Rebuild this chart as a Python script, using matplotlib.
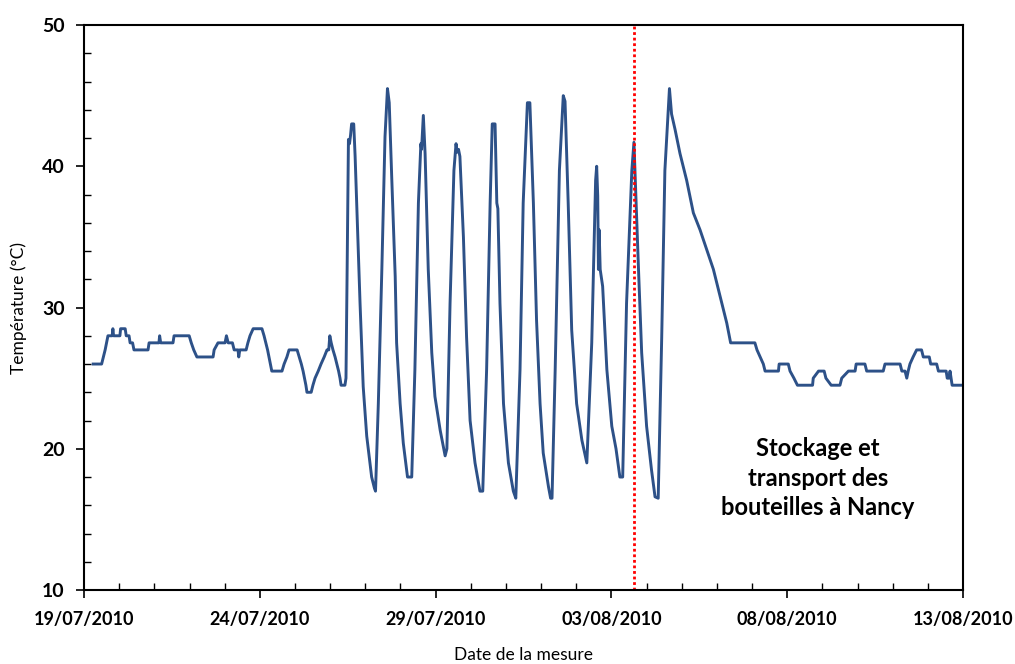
import matplotlib
matplotlib.use("Agg")
import matplotlib.pyplot as plt
from matplotlib.ticker import MultipleLocator, FixedLocator

# days since 19/07/2010
days = [0.26, 0.50, 0.55, 0.60, 0.64, 0.68, 0.80, 0.82, 0.84, 1.02, 1.04, 1.17, 1.20, 1.28, 1.31, 1.38, 1.42,
        1.82, 1.85, 2.13, 2.15, 2.18, 2.53, 2.56, 2.99, 3.05, 3.12, 3.21, 3.67, 3.70, 3.81, 4.01, 4.05, 4.10,
        4.22, 4.27, 4.38, 4.40, 4.43, 4.61, 4.66, 4.72, 4.81, 5.06, 5.12, 5.17, 5.22, 5.26, 5.30, 5.34, 5.63,
        5.69, 5.77, 5.83, 6.06, 6.12, 6.18, 6.23, 6.27, 6.31, 6.34, 6.46, 6.51, 6.57, 6.66, 6.74, 6.83, 6.91,
        6.96, 6.99, 7.03, 7.08, 7.14, 7.19, 7.24, 7.28, 7.31, 7.42,
        7.45, 7.48, 7.51, 7.52, 7.55, 7.58, 7.61, 7.67, 7.71, 7.85, 7.94, 8.04, 8.18, 8.26, 8.29,
        8.37, 8.47, 8.56, 8.63, 8.68, 8.75, 8.85, 8.89, 8.99, 9.08, 9.20, 9.32,
        9.41, 9.51, 9.58, 9.60, 9.65, 9.70, 9.79, 9.89, 9.98, 10.13, 10.27, 10.32,
        10.41, 10.52, 10.58, 10.61, 10.65, 10.69, 10.79, 10.88, 10.98, 11.12, 11.26, 11.34,
        11.45, 11.55, 11.61, 11.69, 11.74, 11.77, 11.83, 11.93, 12.07, 12.21, 12.28,
        12.40, 12.49, 12.61, 12.68, 12.78, 12.87, 12.97, 13.06, 13.21, 13.27, 13.31,
        13.40, 13.52, 13.63, 13.68, 13.77, 13.87, 14.01, 14.16, 14.30,
        14.44, 14.55, 14.58, 14.61, 14.63, 14.65, 14.68, 14.75, 14.87, 15.01, 15.13, 15.24, 15.32,
        15.43, 15.58, 15.64, 15.77, 15.86, 16.00, 16.14, 16.24, 16.33,
        16.43, 16.52, 16.65, 16.71, 16.81, 16.95, 17.14, 17.33, 17.52, 17.71, 17.90, 18.09, 18.28, 18.39,
        19.08, 19.14, 19.23, 19.32, 19.37, 19.75, 19.77, 20.03, 20.08, 20.19, 20.29, 20.72, 20.74, 20.89,
        21.05, 21.10, 21.25, 21.50, 21.55, 21.74, 21.93, 21.96, 22.21, 22.26, 22.73, 22.78, 23.21, 23.26,
        23.35, 23.40, 23.44, 23.49, 23.58, 23.68, 23.82, 23.87, 24.04, 24.08, 24.25, 24.30, 24.52, 24.55,
        24.60, 24.63, 24.69, 25.00]
temps = [26, 26, 26.5, 27, 27.5, 28, 28, 28.5, 28, 28, 28.5, 28.5, 28, 28, 27.5, 27.5, 27,
         27, 27.5, 27.5, 28, 27.5, 27.5, 28, 28, 27.5, 27, 26.5, 26.5, 27, 27.5, 27.5, 28, 27.5,
         27.5, 27, 27, 26.5, 27, 27, 27.5, 28, 28.5, 28.5, 28, 27.5, 27, 26.5, 26, 25.5, 25.5,
         26, 26.5, 27, 27, 26.5, 26, 25.5, 25, 24.5, 24, 24, 24.5, 25, 25.5, 26, 26.5, 27,
         27, 28, 27.5, 27, 26.5, 26, 25.5, 25, 24.5, 24.5,
         25, 32, 40, 41.9, 41.6, 42.2, 43.0, 43.0, 40.7, 30.3, 24.4, 20.9, 18.0, 17.2, 17.0,
         23.2, 32.7, 42.1, 45.5, 44.5, 39.3, 32.2, 27.5, 23.2, 20.4, 18.0, 18.0,
         25.6, 37.4, 41.6, 41.2, 43.6, 40.9, 32.7, 26.8, 23.7, 21.3, 19.5, 20.0,
         30.3, 39.7, 41.6, 41.0, 41.2, 40.7, 35.0, 27.9, 22.0, 19.0, 17.0, 17.0,
         25.6, 37.4, 43.0, 43.0, 37.4, 37.0, 30.3, 23.2, 19.0, 17.0, 16.5,
         25.6, 37.4, 44.5, 44.5, 37.4, 29.1, 23.2, 19.7, 17.3, 16.5, 16.5,
         25.6, 39.7, 45.0, 44.6, 37.4, 28.4, 23.2, 20.6, 19.0,
         27.5, 39.0, 40.0, 37.9, 32.7, 35.5, 32.7, 31.5, 25.6, 21.6, 20.0, 18.0, 18.0,
         30.3, 39.7, 41.7, 32.7, 26.8, 21.6, 18.5, 16.6, 16.5,
         27.9, 39.7, 45.5, 43.7, 42.6, 40.9, 39.0, 36.7, 35.5, 34.1, 32.7, 30.8, 28.9, 27.5,
         27.5, 27.0, 26.5, 26.0, 25.5, 25.5, 26, 26, 25.5, 25.0, 24.5, 24.5, 25, 25.5,
         25.5, 25, 24.5, 24.5, 25, 25.5, 25.5, 26, 26, 25.5, 25.5, 26, 26, 25.5,
         25.5, 25, 25.5, 26, 26.5, 27, 27, 26.5, 26.5, 26, 26, 25.5, 25.5, 25,
         25, 25.5, 24.5, 24.5]

tick_days = [0, 5, 10, 15, 20, 25]
tick_labels = ["19/07/2010", "24/07/2010", "29/07/2010", "03/08/2010", "08/08/2010", "13/08/2010"]
event_day = 15.64
annotation = "Stockage et\ntransport des\nbouteilles à Nancy"

plt.rcParams['font.family'] = ['Lato', 'DejaVu Sans']

fig = plt.figure(figsize=(10.15, 6.64), dpi=100)
ax = fig.add_axes([0.0828, 0.1114, 0.8660, 0.8509])

ax.plot(days, temps, color='#2D5188', lw=2.1, solid_joinstyle='round')
ax.axvline(event_day, color='#FF0000', lw=2.0, linestyle=(0, (1, 1)))

ax.text(20.88, 17.93, annotation, ha='center', va='center', fontsize=17,
        fontweight='bold', linespacing=1.33, color='black')

ax.set_xlim(0, 25)
ax.set_ylim(10, 50)
ax.xaxis.set_major_locator(FixedLocator(tick_days))
ax.set_xticklabels(tick_labels)
ax.xaxis.set_minor_locator(MultipleLocator(1))
ax.yaxis.set_major_locator(MultipleLocator(10))
ax.yaxis.set_minor_locator(MultipleLocator(2))

ax.tick_params(axis='x', which='major', direction='out', length=6, width=1.2, labelsize=13, pad=9)
ax.tick_params(axis='x', which='minor', direction='in', length=5, width=1.0)
ax.tick_params(axis='y', which='major', direction='out', length=6, width=1.2, labelsize=14, pad=8)
ax.tick_params(axis='y', which='minor', direction='in', length=5, width=1.0)
for lab in ax.get_xticklabels() + ax.get_yticklabels():
    lab.set_fontweight('bold')
for s in ax.spines.values():
    s.set_linewidth(1.5)
    s.set_color('black')

ax.set_xlabel("Date de la mesure", fontsize=12.5, labelpad=14)
ax.set_ylabel("Température (°C)", fontsize=12.5, labelpad=11)

fig.savefig("out.png", dpi=100)
